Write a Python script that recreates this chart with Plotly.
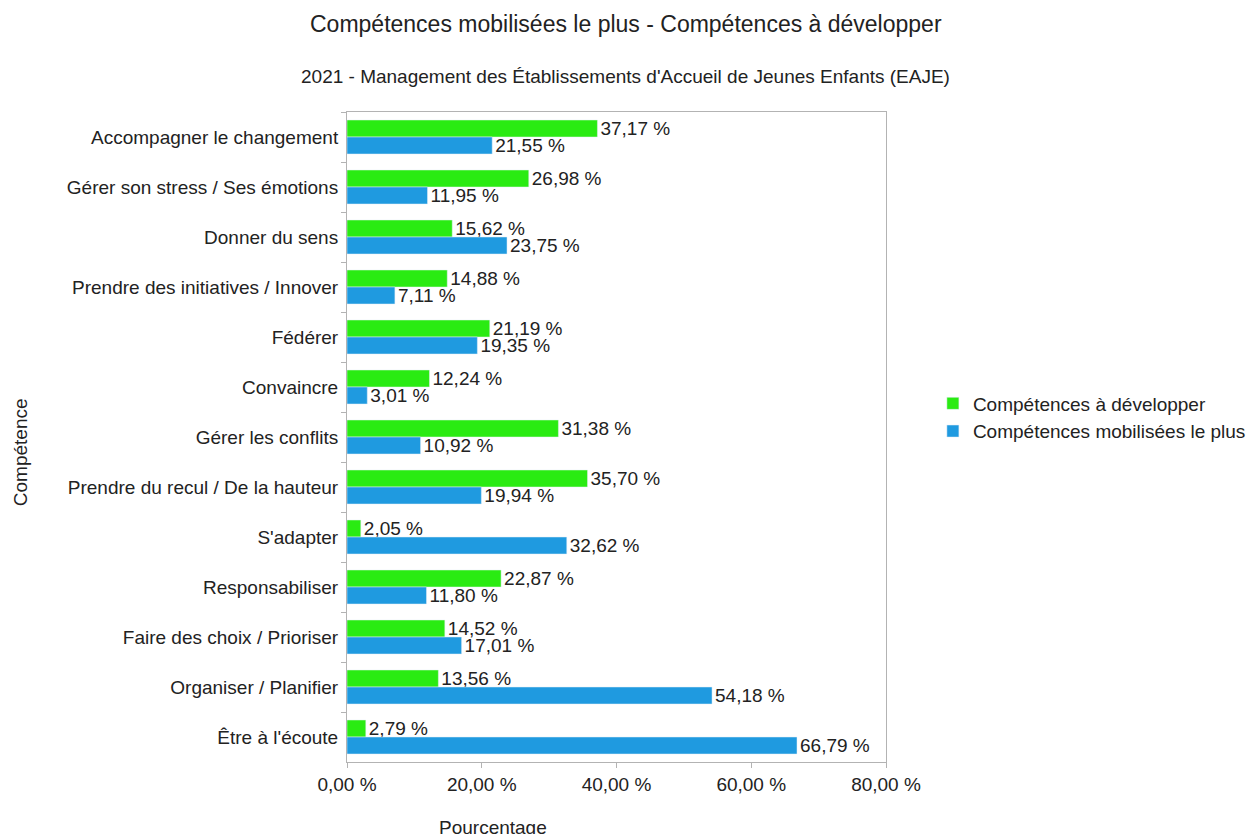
import plotly.graph_objects as go

# --- données
competences = [
    "Accompagner le changement",
    "Gérer son stress / Ses émotions",
    "Donner du sens",
    "Prendre des initiatives / Innover",
    "Fédérer",
    "Convaincre",
    "Gérer les conflits",
    "Prendre du recul / De la hauteur",
    "S'adapter",
    "Responsabiliser",
    "Faire des choix / Prioriser",
    "Organiser / Planifier",
    "Être à l'écoute",
]
a_developper = [37.17, 26.98, 15.62, 14.88, 21.19, 12.24, 31.38, 35.70, 2.05, 22.87, 14.52, 13.56, 2.79]
mobilisees = [21.55, 11.95, 23.75, 7.11, 19.35, 3.01, 10.92, 19.94, 32.62, 11.80, 17.01, 54.18, 66.79]
x_ticks = [0, 20, 40, 60, 80]
x_ticktext = [f"{v:.2f} %".replace(".", ",") for v in x_ticks]

police = "Liberation Sans, Arial, sans-serif"
vert = "#2aeb12"
bleu = "#1f9ae0"

fig = go.Figure()
fig.add_trace(go.Bar(
    y=competences, x=a_developper, orientation="h", name="Compétences à développer",
    marker_color=vert, texttemplate="%{x:.2f} %", textposition="outside",
    constraintext="none", cliponaxis=False,
    textfont=dict(size=19, color="#222222"),
))
fig.add_trace(go.Bar(
    y=competences, x=mobilisees, orientation="h", name="Compétences mobilisées le plus",
    marker_color=bleu, texttemplate="%{x:.2f} %", textposition="outside",
    constraintext="none", cliponaxis=False,
    textfont=dict(size=19, color="#222222"),
))

# la page ajoute une marge de 8 px autour de la figure
fig.update_layout(
    width=1255, height=834,
    separators=", ",
    font=dict(family=police, size=19, color="#222222"),
    plot_bgcolor="white", paper_bgcolor="white",
    barmode="group", bargap=0.32, bargroupgap=0,
    margin=dict(l=339, r=375, t=104, b=80),
    showlegend=True,
    legend=dict(x=1.087, y=0.53, xanchor="left", yanchor="middle",
                font=dict(size=19), traceorder="normal", tracegroupgap=0,
                bgcolor="rgba(0,0,0,0)"),
)
fig.update_xaxes(
    range=[0, 80], tickvals=x_ticks, ticktext=x_ticktext,
    showgrid=False, zeroline=False, showline=True, mirror=True,
    linecolor="#b3b3b3", linewidth=1, ticks="outside", ticklen=5,
    tickcolor="#b3b3b3", tickfont=dict(size=19),
)
fig.update_yaxes(
    autorange="reversed", tickson="boundaries", ticks="outside", ticklen=5,
    tickcolor="#b3b3b3", showgrid=False, showline=True, mirror=True,
    linecolor="#b3b3b3", linewidth=1, tickfont=dict(size=19), ticklabelstandoff=4,
)

fig.add_annotation(text="Compétences mobilisées le plus - Compétences à développer",
                   xref="paper", yref="paper", x=(627 - 347) / 541, y=1 + (112 - 24) / 650,
                   showarrow=False, font=dict(size=23), xanchor="center", yanchor="middle")
fig.add_annotation(text="2021 - Management des Établissements d'Accueil de Jeunes Enfants (EAJE)",
                   xref="paper", yref="paper", x=(627 - 347) / 541, y=1 + (112 - 77) / 650,
                   showarrow=False, font=dict(size=19), xanchor="center", yanchor="middle")
fig.add_annotation(text="Pourcentage", xref="paper", yref="paper",
                   x=(494 - 347) / 541, y=-(827 - 762) / 650,
                   showarrow=False, font=dict(size=19), xanchor="center", yanchor="middle")
fig.add_annotation(text="Compétence", xref="paper", yref="paper",
                   x=-(347 - 20) / 541, y=(762 - 452) / 650, textangle=-90,
                   showarrow=False, font=dict(size=19), xanchor="center", yanchor="middle")

fig.write_html("out.html")
